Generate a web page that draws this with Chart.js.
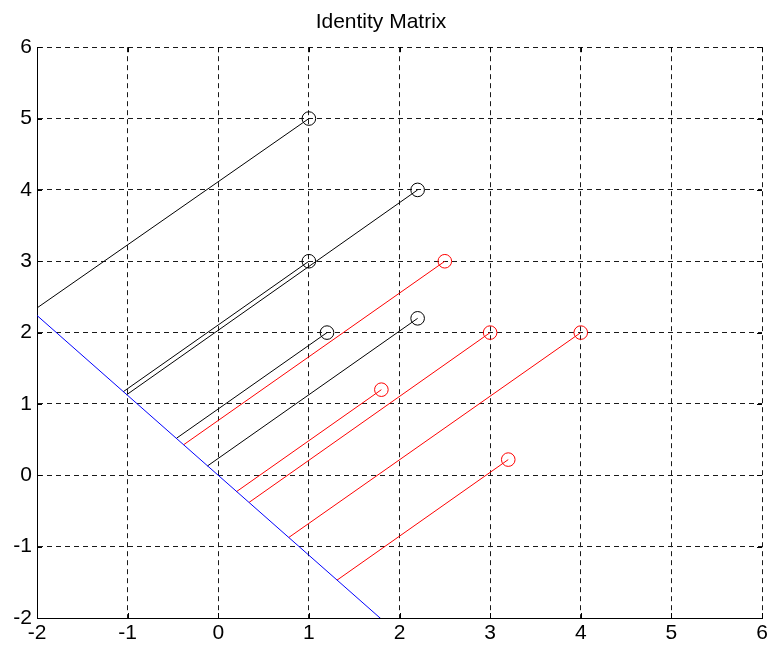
<!DOCTYPE html>
<html>
<head>
<meta charset="utf-8">
<title>Identity Matrix</title>
<script src="https://cdn.jsdelivr.net/npm/chart.js@4/dist/chart.umd.min.js"></script>
<style>
  html, body { margin: 0; padding: 0; background: #ffffff; }
  canvas { display: block; }
</style>
</head>
<body>
<canvas id="chart" width="772" height="647"></canvas>
<script>
// Class 1 samples (black) and their feet on the projection line
const blackX = [1, 2.2, 1, 1.2, 2.2];
const blackY = [5, 4, 3, 2, 2.2];
const blackFootX = [-2.04, -1.01, -1.05, -0.46, -0.12];
const blackFootY = [2.31, 1.13, 1.17, 0.52, 0.13];

// Class 2 samples (red) and their feet on the projection line
const redX = [2.5, 3, 4, 1.8, 3.2];
const redY = [3, 2, 2, 1.2, 0.22];
const redFootX = [-0.38, 0.34, 0.78, 0.20, 1.31];
const redFootY = [0.43, -0.38, -0.87, -0.23, -1.47];

// Projection direction, drawn as a line through the origin
const dirLineX = [-2.2, 2.0];
const dirLineY = [2.464, -2.24];

// Axis ticks
const xTicks = [-2, -1, 0, 1, 2, 3, 4, 5, 6];
const yTicks = [-2, -1, 0, 1, 2, 3, 4, 5, 6];

const FONT = '"Liberation Sans", Arial, Helvetica, sans-serif';

function pairs(xs, ys) {
  return xs.map((x, i) => ({ x: x, y: ys[i] }));
}

function segment(x0, y0, x1, y1, color) {
  return {
    data: [{ x: x0, y: y0 }, { x: x1, y: y1 }],
    showLine: true,
    borderColor: color,
    borderWidth: 1,
    pointRadius: 0,
    pointHoverRadius: 0,
    fill: false
  };
}

const datasets = [];

datasets.push({
  data: pairs(dirLineX, dirLineY),
  showLine: true,
  borderColor: '#0000ff',
  borderWidth: 1,
  pointRadius: 0,
  pointHoverRadius: 0,
  fill: false
});

blackX.forEach((x, i) => datasets.push(segment(blackFootX[i], blackFootY[i], x, blackY[i], '#000000')));
redX.forEach((x, i) => datasets.push(segment(redFootX[i], redFootY[i], x, redY[i], '#ff0000')));

datasets.push({
  data: pairs(blackX, blackY),
  showLine: false,
  pointStyle: 'circle',
  pointRadius: 6.8,
  pointBorderWidth: 1,
  pointBorderColor: '#000000',
  pointBackgroundColor: 'rgba(0,0,0,0)'
});
datasets.push({
  data: pairs(redX, redY),
  showLine: false,
  pointStyle: 'circle',
  pointRadius: 6.8,
  pointBorderWidth: 1,
  pointBorderColor: '#ff0000',
  pointBackgroundColor: 'rgba(0,0,0,0)'
});

// Short tick marks pointing into the plot box on all four sides
const innerTicks = {
  id: 'innerTicks',
  afterDraw(chart) {
    const { ctx, chartArea: a, scales } = chart;
    const len = 5;
    ctx.save();
    ctx.strokeStyle = '#000000';
    ctx.lineWidth = 1;
    ctx.beginPath();
    xTicks.forEach(v => {
      const px = Math.round(scales.x.getPixelForValue(v)) + 0.5;
      ctx.moveTo(px, a.bottom); ctx.lineTo(px, a.bottom - len);
      ctx.moveTo(px, a.top); ctx.lineTo(px, a.top + len);
    });
    yTicks.forEach(v => {
      const py = Math.round(scales.y.getPixelForValue(v)) + 0.5;
      ctx.moveTo(a.left, py); ctx.lineTo(a.left + len, py);
      ctx.moveTo(a.right, py); ctx.lineTo(a.right - len, py);
    });
    ctx.stroke();
    ctx.restore();
  }
};

new Chart(document.getElementById('chart'), {
  type: 'scatter',
  data: { datasets: datasets },
  plugins: [innerTicks],
  options: {
    responsive: false,
    devicePixelRatio: 1,
    animation: false,
    events: [],
    layout: { padding: { top: 0, right: 10, bottom: 0, left: 0 } },
    plugins: {
      legend: { display: false },
      tooltip: { enabled: false },
      title: {
        display: true,
        text: 'Identity Matrix',
        color: '#000000',
        font: { family: FONT, size: 21, weight: 'normal', lineHeight: 1.2 },
        padding: { top: 10, bottom: 12 }
      }
    },
    scales: {
      x: {
        type: 'linear',
        min: -2,
        max: 6,
        afterFit(scale) { scale.height = 29; },
        afterBuildTicks(scale) { scale.ticks = xTicks.map(v => ({ value: v })); },
        ticks: {
          color: '#000000',
          font: { family: FONT, size: 21 },
          padding: 3,
          maxRotation: 0,
          autoSkip: false,
          callback: v => String(v)
        },
        grid: { color: '#1a1a1a', lineWidth: 1, drawTicks: false },
        border: { display: true, color: '#000000', width: 1, dash: [5, 4] }
      },
      y: {
        type: 'linear',
        min: -2,
        max: 6,
        afterFit(scale) { scale.width = 37; },
        afterBuildTicks(scale) { scale.ticks = yTicks.map(v => ({ value: v })); },
        ticks: {
          color: '#000000',
          font: { family: FONT, size: 21 },
          padding: 5,
          autoSkip: false,
          callback: v => String(v)
        },
        grid: { color: '#1a1a1a', lineWidth: 1, drawTicks: false },
        border: { display: true, color: '#000000', width: 1, dash: [5, 4] }
      }
    }
  }
});
</script>
</body>
</html>
